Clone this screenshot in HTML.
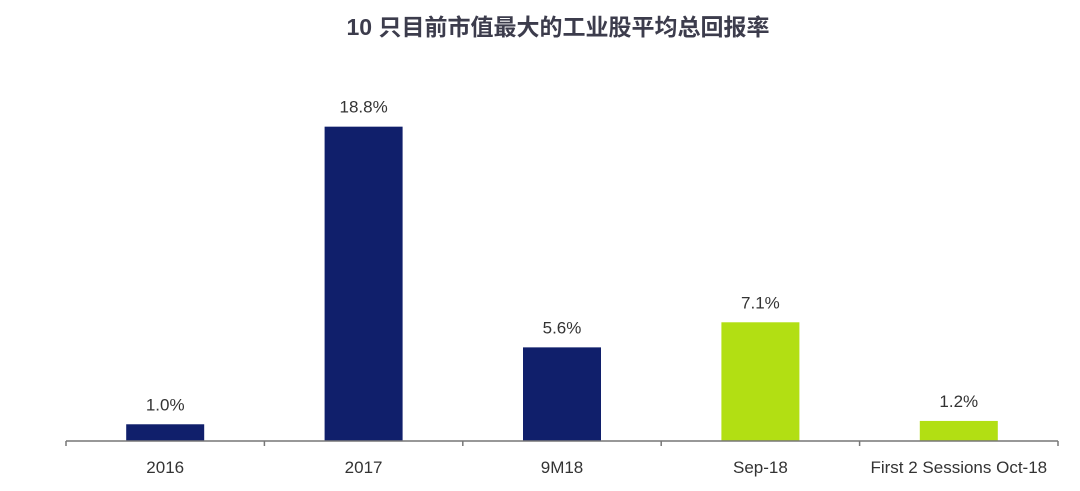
<!DOCTYPE html>
<html><head><meta charset="utf-8"><style>
html,body{margin:0;padding:0;background:#fff;width:1080px;height:491px;overflow:hidden}
</style></head><body>
<svg width="1080" height="491" id="chart">
<text x="558" y="35" text-anchor="middle" font-family="'Liberation Sans','Noto Sans CJK SC',sans-serif" font-weight="bold" font-size="23" fill="#3c3c4c">10 只目前市值最大的工业股平均总回报率</text>
</svg>
<script>
const categories = ["2016","2017","9M18","Sep-18","First 2 Sessions Oct-18"];
const values = [1.0, 18.8, 5.6, 7.1, 1.2];
const valueLabels = ["1.0%","18.8%","5.6%","7.1%","1.2%"];
const colors = ["#101f6b","#101f6b","#101f6b","#b2df13","#b2df13"];
const svg = document.getElementById('chart');
const NS = 'http://www.w3.org/2000/svg';
const x0 = 66, x1 = 1058, baseY = 441, pxPer = 16.72;
const band = (x1 - x0) / categories.length;
const xScale = i => x0 + band * i;
const yScale = v => baseY - v * pxPer;
function mk(t, a){const e=document.createElementNS(NS,t);for(const k in a)e.setAttribute(k,a[k]);svg.appendChild(e);return e;}
categories.forEach((c,i)=>{
  const cx = xScale(i) + band/2, w = 78;
  const r = mk('rect',{x:cx-w/2,y:yScale(values[i]),width:w,height:baseY-yScale(values[i]),fill:colors[i]});
  
  
  const t = mk('text',{x:cx,y:yScale(values[i])-14,'text-anchor':'middle','font-family':'Liberation Sans, sans-serif','font-size':'17',fill:'#333'});
  t.textContent = valueLabels[i];
  
  
  const l = mk('text',{x:cx,y:473,'text-anchor':'middle','font-family':'Liberation Sans, sans-serif','font-size':'17',fill:'#333'});
  l.textContent = c;
  
  
});
const ax = mk('line',{x1:x0,y1:baseY,x2:x1,y2:baseY,stroke:'#777','stroke-width':'1.5'});


for(let i=0;i<=categories.length;i++){
  const tk = mk('line',{x1:xScale(i),y1:baseY,x2:xScale(i),y2:baseY+5,stroke:'#777','stroke-width':'1.5'});
  
  
}
</script>
</body></html>
